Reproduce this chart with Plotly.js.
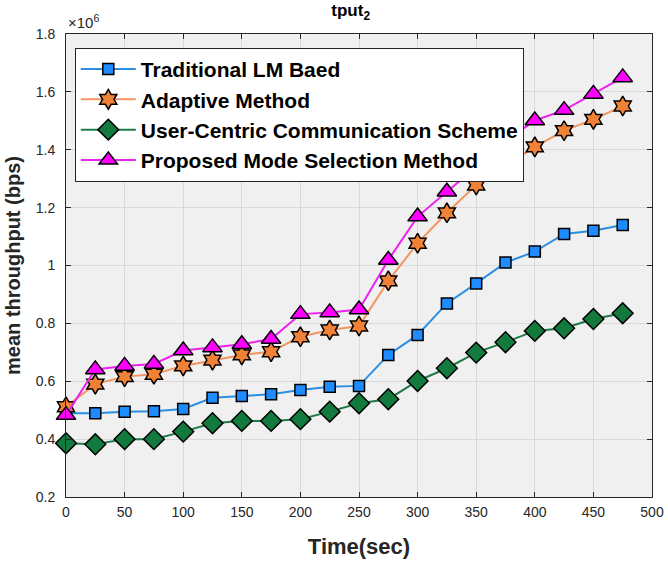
<!DOCTYPE html>
<html>
<head>
<meta charset="utf-8">
<script src="https://cdn.plot.ly/plotly-3.0.1.min.js"></script>
<style>html,body{margin:0;padding:0;background:#fff;}#chart{width:668px;height:562px;}</style>
</head>
<body>
<div id="chart"></div>
<script>
// Time in seconds
const timeSec = [0,25,50,75,100,125,150,175,200,225,250,275,300,325,350,375,400,425,450,475];
// mean throughput, in units of 1e6 bps
const traditionalLM = [0.489,0.489,0.495,0.496,0.504,0.543,0.549,0.555,0.570,0.581,0.584,0.691,0.760,0.869,0.938,1.010,1.048,1.109,1.120,1.140];
const adaptiveMethod = [0.512,0.590,0.616,0.624,0.653,0.673,0.691,0.702,0.754,0.777,0.791,0.947,1.077,1.182,1.278,1.345,1.410,1.466,1.505,1.551];
const userCentric = [0.386,0.382,0.400,0.400,0.426,0.455,0.463,0.463,0.469,0.495,0.524,0.538,0.601,0.645,0.699,0.735,0.774,0.783,0.815,0.835];
const proposedMode = [0.483,0.641,0.653,0.660,0.706,0.717,0.728,0.746,0.832,0.838,0.848,1.019,1.169,1.255,1.340,1.430,1.501,1.537,1.593,1.650];
const seriesNames = ["Traditional LM Baed","Adaptive Method","User-Centric Communication Scheme","Proposed Mode Selection Method"];
const xTicks = [0,50,100,150,200,250,300,350,400,450,500];
const yTicks = [0.2,0.4,0.6,0.8,1.0,1.2,1.4,1.6,1.8];
const yTickText = ["0.2","0.4","0.6","0.8","1","1.2","1.4","1.6","1.8"];

const edge = {color:'#000', width:1.5};
function tr(y, name, lineColor, sym, size, fill, grp){
  return {x: timeSec, y: y, name: name, type:'scatter', mode:'lines+markers',
    legendgroup: grp, cliponaxis:false,
    line:{color:lineColor, width:2},
    marker:{symbol:sym, size:size, color:fill, line:edge}};
}
const data = [
  tr(traditionalLM, seriesNames[0], '#2a8fe2', 'square', 11, '#1e8cff', 'a'),
  tr(adaptiveMethod, seriesNames[1], '#f39560', 'hexagram', 15, '#f08238', 'b'),
  tr(userCentric, seriesNames[2], '#1f7a47', 'diamond', 16, '#137a3e', 'c'),
  tr(proposedMode, seriesNames[3], '#ee22ee', 'triangle-up', 17, '#ff00ff', 'd')
];
const axFont = {family:'Liberation Sans, Arial, sans-serif', size:14, color:'#262626'};
const layout = {
  width:668, height:562,
  margin:{l:66, r:16, t:34, b:65},
  paper_bgcolor:'#fff', plot_bgcolor:'#f0f0f0',
  font:{family:'Liberation Sans, Arial, sans-serif'},
  title:{text:'<b>tput<sub>2</sub></b>', x:0.525, xanchor:'center', y:0.992, yanchor:'top',
    font:{size:17, color:'#000'}},
  xaxis:{range:[0,500], tickvals:xTicks, ticktext:xTicks.map(String), tickfont:axFont,
    showgrid:true, gridcolor:'#d9d9d9', gridwidth:1, zeroline:false,
    showline:true, linecolor:'#262626', linewidth:1, mirror:'ticks',
    ticks:'inside', ticklen:5, tickcolor:'#262626', ticklabelstandoff:2,
    title:{text:'<b>Time(sec)</b>', font:{size:22, color:'#262626'}, standoff:19}},
  yaxis:{range:[0.2,1.8], tickvals:yTicks, ticktext:yTickText, tickfont:axFont,
    showgrid:true, gridcolor:'#d9d9d9', gridwidth:1, zeroline:false,
    showline:true, linecolor:'#262626', linewidth:1, mirror:'ticks',
    ticks:'inside', ticklen:5, tickcolor:'#262626', ticklabelstandoff:7,
    title:{text:'<b>mean throughput (bps)</b>', font:{size:20, color:'#262626'}, standoff:9}},
  showlegend:true,
  legend:{x:0.015, y:0.97, xanchor:'left', yanchor:'top', bgcolor:'#fff',
    bordercolor:'#262626', borderwidth:1,
    font:{size:21, color:'#000', weight:'bold'}, itemwidth:55, tracegroupgap:0,
    traceorder:'normal'},
  annotations:[{xref:'paper', yref:'paper', x:0, y:1, xanchor:'left', yanchor:'bottom', yshift:1,
    text:'×10<sup>6</sup>', showarrow:false, font:{size:15, color:'#262626'}}]
};
Plotly.newPlot('chart', data, layout, {displayModeBar:false, staticPlot:true});
</script>
</body>
</html>
